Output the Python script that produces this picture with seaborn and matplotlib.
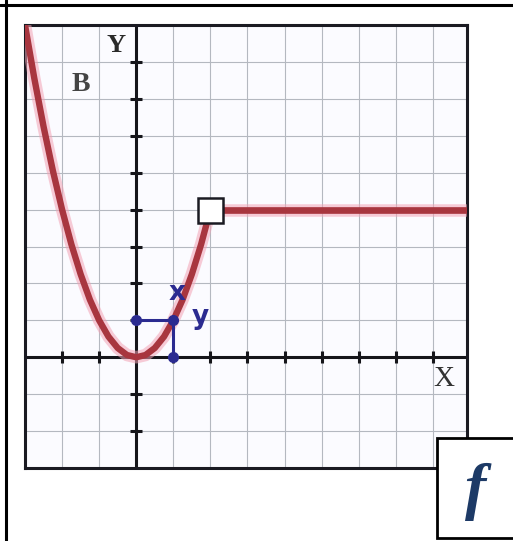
import matplotlib.pyplot as plt
import matplotlib.patches as patches
import numpy as np
import pandas as pd
import seaborn as sns

# values (grid units)
curve_x = [-3, -2.75, -2.5, -2.25, -2, -1.75, -1.5, -1.25, -1, -0.75, -0.5, -0.25,
           0, 0.25, 0.5, 0.75, 1, 1.25, 1.5, 1.75, 2]
curve_y = [9, 7.56, 6.25, 5.06, 4, 3.06, 2.25, 1.56, 1, 0.56, 0.25, 0.06,
           0, 0.06, 0.25, 0.56, 1, 1.56, 2.25, 3.06, 4]
flat_x = [2, 8.9]
flat_y = [4, 4]
hole_x = [2]
hole_y = [4]
blue_x = [0, 1, 1]
blue_y = [1, 1, 0]
ticks_x = [-2, -1, 1, 2, 3, 4, 5, 6, 7, 8]
ticks_y = [-2, -1, 1, 2, 3, 4, 5, 6, 7, 8]

sns.set_style("white")
plt.rcParams['font.family'] = ['Liberation Serif', 'DejaVu Serif']

W, H = 513, 541
fig = plt.figure(figsize=(W / 100, H / 100), dpi=100)

# table borders around the figure
fig.add_artist(plt.Line2D([6 / W, 6 / W], [0, 1], color='black', lw=2.2))
fig.add_artist(plt.Line2D([0, 1], [1 - 5 / H, 1 - 5 / H], color='black', lw=2.2))

ax = fig.add_axes([25 / W, 1 - 468 / H, (467 - 25) / W, (468 - 25) / H])
ax.set_xlim(-3, 8.92)
ax.set_ylim(-3, 9)
ax.set_facecolor('#fbfbff')

# grid
ax.set_xticks(np.arange(-3, 9, 1))
ax.set_yticks(np.arange(-3, 10, 1))
ax.grid(True, color='#b4b8c0', lw=0.8)
ax.tick_params(length=0, labelbottom=False, labelleft=False)
for s in ax.spines.values():
    s.set_color('#1a1a22')
    s.set_linewidth(2.2)
    s.set_visible(True)

# axes lines with tick marks
ax.axhline(0, color='#15151a', lw=2.2, zorder=2)
ax.axvline(0, color='#15151a', lw=2.2, zorder=2)
ax.plot(ticks_x, [0] * len(ticks_x), ls='none', marker='|', ms=9, mew=2.2, color='#15151a', zorder=2)
ax.plot([0] * len(ticks_y), ticks_y, ls='none', marker='_', ms=9, mew=2.2, color='#15151a', zorder=2)

# curve with soft pink halo
df = pd.DataFrame({'x': curve_x, 'y': curve_y})
sns.lineplot(data=df, x='x', y='y', sort=False, estimator=None, ax=ax,
             color='#f2a3b5', lw=9, alpha=0.55, zorder=3, solid_capstyle='round')
sns.lineplot(data=df, x='x', y='y', sort=False, estimator=None, ax=ax,
             color='#a8363f', lw=4.6, zorder=4, solid_capstyle='round')
ax.plot(flat_x, flat_y, color='#f2a3b5', lw=9, alpha=0.55, zorder=3)
ax.plot(flat_x, flat_y, color='#a8363f', lw=4.8, zorder=4)
ax.plot(hole_x, hole_y, ls='none', marker='s', ms=18, mfc='white', mec='#1a1a22', mew=1.8, zorder=6)
ax.set_xlabel('')
ax.set_ylabel('')

# blue construction
navy = '#2b2b90'
ax.plot(blue_x, blue_y, color=navy, lw=2.2, zorder=5)
ax.plot(blue_x, blue_y, ls='none', marker='o', ms=7, color=navy, zorder=5)
ax.text(1.1, 1.75, 'x', color=navy, fontsize=19, fontweight='bold', family='DejaVu Sans',
        ha='center', va='center', zorder=7)
ax.text(1.72, 1.08, 'y', color=navy, fontsize=19, fontweight='bold', family='DejaVu Sans',
        ha='center', va='center', zorder=7)

# labels
ax.text(-0.55, 8.45, 'Y', fontsize=19, fontweight='bold', color='#2a2a2a', ha='center', va='center')
ax.text(-1.5, 7.4, 'B', fontsize=20, fontweight='bold', color='#444', ha='center', va='center')
ax.text(8.3, -0.6, 'X', fontsize=21, color='#333', ha='center', va='center')

# f box
fig.patches.append(patches.Rectangle((437 / W, 1 - 538 / H), (W + 5 - 437) / W, (538 - 438) / H,
                                     transform=fig.transFigure, fill=True, facecolor='white',
                                     edgecolor='black', lw=2, zorder=10))
fig.text(476 / W, 1 - 492 / H, 'f', fontsize=46, fontweight='bold', style='italic',
         color='#1d3a66', ha='center', va='center', zorder=11)

fig.savefig('out.png', dpi=100)
